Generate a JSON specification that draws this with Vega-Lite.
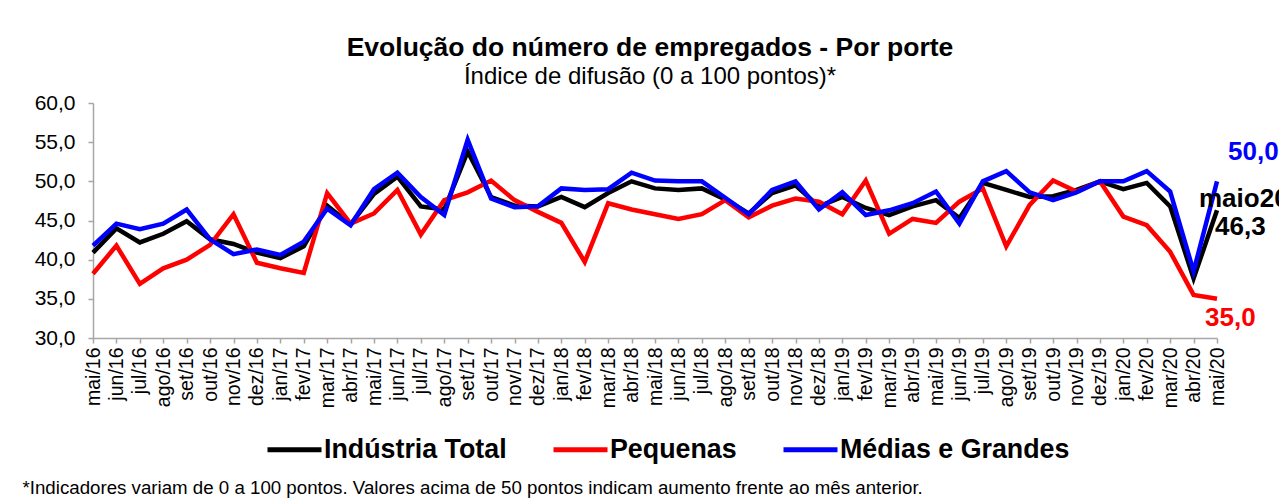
{
  "$schema": "https://vega.github.io/schema/vega-lite/v6.json",
  "width": 1124,
  "height": 235,
  "autosize": {"type": "none"},
  "padding": {"left": 93, "top": 103, "right": 62, "bottom": 162},
  "background": "white",
  "config": {
    "font": "Liberation Sans",
    "view": {"stroke": null},
    "locale": {"number": {"decimal": ",", "thousands": ".", "grouping": [3], "currency": ["R$", ""]}}
  },
  "title": {
    "text": "Evolução do número de empregados - Por porte",
    "subtitle": "Índice de difusão (0 a 100 pontos)*",
    "anchor": "middle",
    "frame": "group",
    "dx": -5,
    "offset": 3,
    "font": "Liberation Sans",
    "fontSize": 26.5,
    "fontWeight": "bold",
    "color": "#000000",
    "subtitleFont": "Liberation Sans",
    "subtitleFontSize": 24,
    "subtitleColor": "#000000",
    "subtitlePadding": 4
  },
  "data": {
    "values": [
      {"m": "mai/16", "Indústria Total": 40.9, "Pequenas": 38.2, "Médias e Grandes": 41.8},
      {"m": "jun/16", "Indústria Total": 44.0, "Pequenas": 41.8, "Médias e Grandes": 44.6},
      {"m": "jul/16", "Indústria Total": 42.2, "Pequenas": 36.9, "Médias e Grandes": 43.9},
      {"m": "ago/16", "Indústria Total": 43.3, "Pequenas": 38.9, "Médias e Grandes": 44.6},
      {"m": "set/16", "Indústria Total": 44.9, "Pequenas": 40.0, "Médias e Grandes": 46.4},
      {"m": "out/16", "Indústria Total": 42.6, "Pequenas": 41.9, "Médias e Grandes": 42.6},
      {"m": "nov/16", "Indústria Total": 42.0, "Pequenas": 45.8, "Médias e Grandes": 40.7},
      {"m": "dez/16", "Indústria Total": 40.9, "Pequenas": 39.6, "Médias e Grandes": 41.3},
      {"m": "jan/17", "Indústria Total": 40.2, "Pequenas": 38.9, "Médias e Grandes": 40.6},
      {"m": "fev/17", "Indústria Total": 41.7, "Pequenas": 38.3, "Médias e Grandes": 42.3},
      {"m": "mar/17", "Indústria Total": 46.9, "Pequenas": 48.5, "Médias e Grandes": 46.5},
      {"m": "abr/17", "Indústria Total": 44.5, "Pequenas": 44.6, "Médias e Grandes": 44.4},
      {"m": "mai/17", "Indústria Total": 48.4, "Pequenas": 45.9, "Médias e Grandes": 49.0},
      {"m": "jun/17", "Indústria Total": 50.6, "Pequenas": 48.9, "Médias e Grandes": 51.1},
      {"m": "jul/17", "Indústria Total": 46.8, "Pequenas": 43.2, "Médias e Grandes": 48.0},
      {"m": "ago/17", "Indústria Total": 46.4, "Pequenas": 47.6, "Médias e Grandes": 45.7},
      {"m": "set/17", "Indústria Total": 53.8, "Pequenas": 48.6, "Médias e Grandes": 55.3},
      {"m": "out/17", "Indústria Total": 48.0, "Pequenas": 50.1, "Médias e Grandes": 47.8},
      {"m": "nov/17", "Indústria Total": 46.9, "Pequenas": 47.6, "Médias e Grandes": 46.7},
      {"m": "dez/17", "Indústria Total": 46.8, "Pequenas": 46.1, "Médias e Grandes": 46.8},
      {"m": "jan/18", "Indústria Total": 48.0, "Pequenas": 44.7, "Médias e Grandes": 49.1},
      {"m": "fev/18", "Indústria Total": 46.7, "Pequenas": 39.7, "Médias e Grandes": 48.9},
      {"m": "mar/18", "Indústria Total": 48.5, "Pequenas": 47.2, "Médias e Grandes": 49.0},
      {"m": "abr/18", "Indústria Total": 50.0, "Pequenas": 46.4, "Médias e Grandes": 51.1},
      {"m": "mai/18", "Indústria Total": 49.1, "Pequenas": 45.8, "Médias e Grandes": 50.1},
      {"m": "jun/18", "Indústria Total": 48.9, "Pequenas": 45.2, "Médias e Grandes": 50.0},
      {"m": "jul/18", "Indústria Total": 49.1, "Pequenas": 45.8, "Médias e Grandes": 50.0},
      {"m": "ago/18", "Indústria Total": 47.7, "Pequenas": 47.6, "Médias e Grandes": 47.9},
      {"m": "set/18", "Indústria Total": 45.9, "Pequenas": 45.4, "Médias e Grandes": 45.8},
      {"m": "out/18", "Indústria Total": 48.5, "Pequenas": 46.9, "Médias e Grandes": 48.9},
      {"m": "nov/18", "Indústria Total": 49.5, "Pequenas": 47.8, "Médias e Grandes": 50.0},
      {"m": "dez/18", "Indústria Total": 46.8, "Pequenas": 47.4, "Médias e Grandes": 46.4},
      {"m": "jan/19", "Indústria Total": 48.0, "Pequenas": 45.8, "Médias e Grandes": 48.6},
      {"m": "fev/19", "Indústria Total": 46.6, "Pequenas": 50.1, "Médias e Grandes": 45.7},
      {"m": "mar/19", "Indústria Total": 45.7, "Pequenas": 43.3, "Médias e Grandes": 46.3},
      {"m": "abr/19", "Indústria Total": 46.8, "Pequenas": 45.2, "Médias e Grandes": 47.2},
      {"m": "mai/19", "Indústria Total": 47.6, "Pequenas": 44.7, "Médias e Grandes": 48.7},
      {"m": "jun/19", "Indústria Total": 45.3, "Pequenas": 47.4, "Médias e Grandes": 44.6},
      {"m": "jul/19", "Indústria Total": 49.8, "Pequenas": 49.1, "Médias e Grandes": 50.0},
      {"m": "ago/19", "Indústria Total": 48.9, "Pequenas": 41.7, "Médias e Grandes": 51.3},
      {"m": "set/19", "Indústria Total": 48.0, "Pequenas": 47.0, "Médias e Grandes": 48.6},
      {"m": "out/19", "Indústria Total": 48.1, "Pequenas": 50.1, "Médias e Grandes": 47.6},
      {"m": "nov/19", "Indústria Total": 48.9, "Pequenas": 48.7, "Médias e Grandes": 48.6},
      {"m": "dez/19", "Indústria Total": 50.0, "Pequenas": 50.0, "Médias e Grandes": 50.0},
      {"m": "jan/20", "Indústria Total": 49.0, "Pequenas": 45.5, "Médias e Grandes": 50.0},
      {"m": "fev/20", "Indústria Total": 49.8, "Pequenas": 44.4, "Médias e Grandes": 51.3},
      {"m": "mar/20", "Indústria Total": 46.8, "Pequenas": 41.0, "Médias e Grandes": 48.7},
      {"m": "abr/20", "Indústria Total": 37.6, "Pequenas": 35.5, "Médias e Grandes": 38.5},
      {"m": "mai/20", "Indústria Total": 46.3, "Pequenas": 35.0, "Médias e Grandes": 50.0}
    ]
  },
  "transform": [
    {"fold": ["Indústria Total", "Pequenas", "Médias e Grandes"], "as": ["serie", "valor"]}
  ],
  "encoding": {
    "x": {
      "field": "m",
      "type": "ordinal",
      "sort": null,
      "scale": {"type": "point", "padding": 0},
      "axis": {
        "title": "*Indicadores variam de 0 a 100 pontos. Valores acima de 50 pontos indicam aumento frente ao mês anterior.",
        "titleFont": "Liberation Sans",
        "titleFontSize": 18.7,
        "titleFontWeight": "normal",
        "titleColor": "#000000",
        "titleAnchor": "start",
        "titleAlign": "left",
        "titleBaseline": "middle",
        "titleX": -71,
        "titleY": 149,
        "labelAngle": -90,
        "labelFontSize": 19.5,
        "labelColor": "#000000",
        "labelPadding": 4,
        "labelOverlap": false,
        "tickSize": 5,
        "tickColor": "#a6a6a6",
        "domainColor": "#a6a6a6",
        "domainWidth": 1.5,
        "tickWidth": 1.5,
        "grid": false
      }
    },
    "y": {
      "field": "valor",
      "type": "quantitative",
      "scale": {"domain": [30, 60], "nice": false, "zero": false},
      "axis": {
        "title": null,
        "values": [30, 35, 40, 45, 50, 55, 60],
        "format": ".1f",
        "labelFontSize": 21,
        "labelColor": "#000000",
        "labelPadding": 13,
        "tickSize": 5,
        "tickColor": "#a6a6a6",
        "domainColor": "#a6a6a6",
        "domainWidth": 1.5,
        "tickWidth": 1.5,
        "grid": false
      }
    }
  },
  "layer": [
    {
      "mark": {"type": "line", "strokeWidth": 4.5, "strokeJoin": "miter"},
      "encoding": {
        "color": {
          "field": "serie",
          "type": "nominal",
          "scale": {"domain": ["Indústria Total", "Pequenas", "Médias e Grandes"], "range": ["#000000", "#ff0000", "#0000ff"]},
          "legend": {
            "title": null,
            "orient": "none",
            "direction": "horizontal",
            "legendX": 172,
            "legendY": 317,
            "symbolType": "stroke",
            "symbolSize": 2916,
            "symbolStrokeWidth": 5,
            "labelFontSize": 26.8,
            "labelFontWeight": "bold",
            "labelColor": "#000000",
            "labelLimit": 400,
            "labelOffset": 0,
            "columnPadding": 36
          }
        }
      }
    },
    {
      "transform": [{"filter": "datum.m === 'mai/20' && datum.serie === 'Médias e Grandes'"}],
      "mark": {"type": "text", "align": "left", "baseline": "middle", "dx": 11, "dy": -29, "fontSize": 26, "fontWeight": "bold", "color": "#0000ff"},
      "encoding": {"text": {"field": "valor", "type": "quantitative", "format": ".1f"}}
    },
    {
      "transform": [{"filter": "datum.m === 'mai/20' && datum.serie === 'Indústria Total'"}],
      "mark": {"type": "text", "align": "left", "baseline": "middle", "dx": -18, "dy": -11, "fontSize": 26, "fontWeight": "bold", "color": "#000000", "text": "maio20"},
      "encoding": {}
    },
    {
      "transform": [{"filter": "datum.m === 'mai/20' && datum.serie === 'Indústria Total'"}],
      "mark": {"type": "text", "align": "left", "baseline": "middle", "dx": -2, "dy": 17, "fontSize": 26, "fontWeight": "bold", "color": "#000000"},
      "encoding": {"text": {"field": "valor", "type": "quantitative", "format": ".1f"}}
    },
    {
      "transform": [{"filter": "datum.m === 'mai/20' && datum.serie === 'Pequenas'"}],
      "mark": {"type": "text", "align": "left", "baseline": "middle", "dx": -12, "dy": 19, "fontSize": 26, "fontWeight": "bold", "color": "#ff0000"},
      "encoding": {"text": {"field": "valor", "type": "quantitative", "format": ".1f"}}
    }
  ]
}
